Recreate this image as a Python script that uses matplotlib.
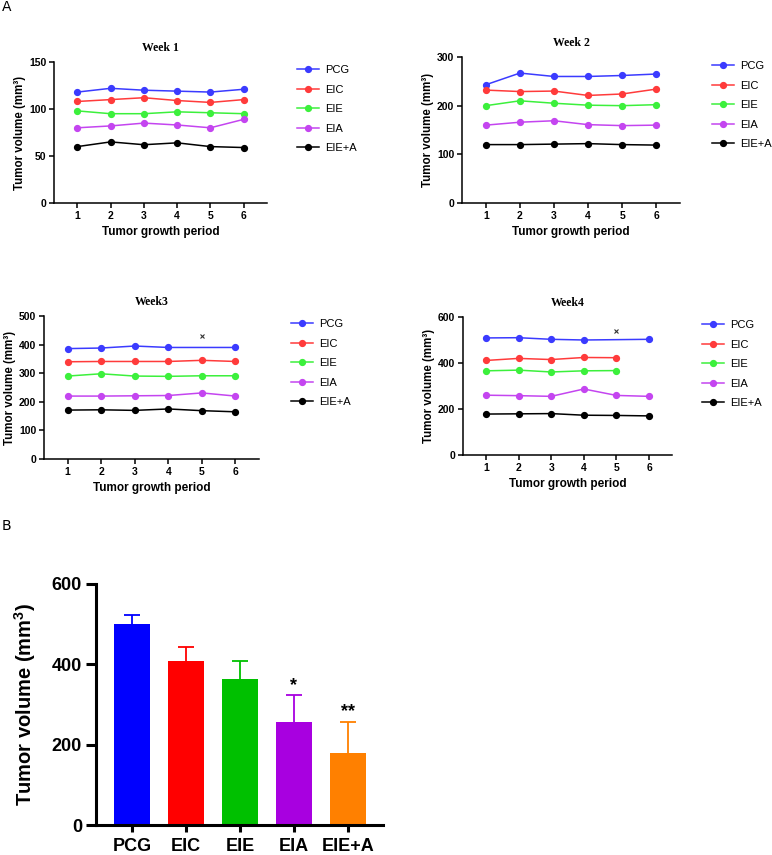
import numpy as np
import matplotlib.pyplot as plt

plt.rcParams['font.family'] = ['Liberation Sans', 'DejaVu Sans']
plt.rcParams['mathtext.fontset'] = 'custom'
plt.rcParams['mathtext.rm'] = 'Liberation Sans:bold'
plt.rcParams['mathtext.it'] = 'Liberation Sans:bold'
plt.rcParams['mathtext.bf'] = 'Liberation Sans:bold'

# data
groups = ['PCG', 'EIC', 'EIE', 'EIA', 'EIE+A']
periods = [1, 2, 3, 4, 5, 6]

week1 = {
    'PCG': [118, 122, 120, 119, 118, 121],
    'EIC': [108, 110, 112, 109, 107, 110],
    'EIE': [98, 95, 95, 97, 96, 95],
    'EIA': [80, 82, 85, 83, 80, 89],
    'EIE+A': [60, 65, 62, 64, 60, 59],
}
week2 = {
    'PCG': [243, 267, 260, 260, 262, 265],
    'EIC': [232, 229, 230, 221, 224, 234],
    'EIE': [200, 210, 205, 201, 200, 202],
    'EIA': [160, 166, 169, 161, 159, 160],
    'EIE+A': [120, 120, 121, 122, 120, 119],
}
# None = no point drawn at that period
week3 = {
    'PCG': [386, 388, 395, 390, None, 390],
    'EIC': [340, 341, 341, 341, 345, 341],
    'EIE': [290, 298, 290, 289, 291, 291],
    'EIA': [220, 220, 221, 222, 231, 220],
    'EIE+A': [171, 172, 170, 175, 169, 165],
}
week4 = {
    'PCG': [509, 510, 503, 500, None, 503],
    'EIC': [411, 420, 415, 424, 423, None],
    'EIE': [366, 369, 361, 366, 367, None],
    'EIA': [260, 258, 255, 287, 259, 255],
    'EIE+A': [178, 179, 180, 173, 172, 170],
}
# stray "x" marks (period, value)
week3_x = (5, 430)
week4_x = (5, 539)

final_mean = [500, 408, 364, 257, 180]
final_err = [22, 34, 45, 66, 77]
stars = ['', '', '', '*', '**']

line_colors = ['#3b3bff', '#ff3b3b', '#3cf03c', '#c445f0', '#000000']
bar_colors = ['#0000ff', '#ff0000', '#00c000', '#a800e0', '#ff8000']

W, H = 772, 855
fig = plt.figure(figsize=(W / 100, H / 100), dpi=100)


def px_axes(l, r, t, b):
    return fig.add_axes([l / W, 1 - b / H, (r - l) / W, (b - t) / H])


def week_panel(rect, data, title, ymax, step, leg_xy, xmark=None):
    ax = px_axes(*rect)
    for g, c in zip(groups, line_colors):
        xs = [p for p, v in zip(periods, data[g]) if v is not None]
        ys = [v for v in data[g] if v is not None]
        ax.plot(xs, ys, color=c, lw=1.1, marker='o', ms=4.2, label=g)
    if xmark is not None:
        ax.plot([xmark[0]], [xmark[1]], marker='x', ms=3, mew=0.8,
                color='#333333', ls='none')
    ax.set_xlim(0.3, 6.7)
    ax.set_ylim(0, ymax)
    ax.set_yticks(np.arange(0, ymax + 1, step))
    ax.set_xticks(periods)
    for s in ['top', 'right']:
        ax.spines[s].set_visible(False)
    for s in ['left', 'bottom']:
        ax.spines[s].set_linewidth(1.1)
    ax.tick_params(length=3.5, width=1.1, labelsize=7.5, pad=2)
    for lab in ax.get_xticklabels() + ax.get_yticklabels():
        lab.set_fontweight('bold')
    ax.set_xlabel('Tumor growth period', fontsize=8.5, fontweight='bold', labelpad=4)
    ax.set_ylabel('Tumor volume (mm³)', fontsize=8.3, fontweight='bold', labelpad=2)
    ax.set_title(title, fontsize=8.5, fontweight='bold',
                 family='Liberation Serif', pad=8)
    ax.legend(loc='upper left', bbox_to_anchor=(leg_xy[0] / W, 1 - leg_xy[1] / H),
              bbox_transform=fig.transFigure, frameon=False, fontsize=8,
              handlelength=2.0, handletextpad=0.5, labelspacing=0.86,
              borderpad=0, borderaxespad=0)
    return ax


week_panel((54, 267, 62, 203), week1, 'Week 1', 150, 50, (297, 65))
week_panel((462, 680, 57, 203), week2, 'Week 2', 300, 100, (712, 61))
week_panel((44, 259, 316, 459), week3, 'Week3', 500, 100, (291, 319), week3_x)
week_panel((463, 672, 317, 455), week4, 'Week4', 600, 200, (702, 320), week4_x)

# panel B
ax = px_axes(96, 383, 584, 825)
x = np.arange(len(groups))
ax.bar(x, final_mean, width=0.66, color=bar_colors, zorder=3)
for i in range(len(groups)):
    eb = ax.errorbar(x[i], final_mean[i], yerr=[[0], [final_err[i]]], color=bar_colors[i],
                     capsize=5.5, elinewidth=1.3, capthick=1.3, zorder=2)
    eb[1][0].set_visible(False)
    if stars[i]:
        ax.text(x[i], final_mean[i] + final_err[i] + 4, stars[i], ha='center',
                va='bottom', fontsize=13, fontweight='bold')
ax.set_xlim(-0.67, 4.65)
ax.set_ylim(0, 600)
ax.set_yticks([0, 200, 400, 600])
ax.set_xticks(x)
ax.set_xticklabels(groups)
for s in ['top', 'right']:
    ax.spines[s].set_visible(False)
for s in ['left', 'bottom']:
    ax.spines[s].set_linewidth(2.2)
    ax.spines[s].set_zorder(4)
ax.tick_params(axis='y', length=7, width=2.2, labelsize=13, pad=3)
ax.tick_params(axis='x', length=5, width=2.2, labelsize=13, pad=4)
for lab in ax.get_xticklabels() + ax.get_yticklabels():
    lab.set_fontweight('bold')
ax.set_ylabel(r'Tumor volume (mm$^{3}$)', fontsize=14.5, fontweight='bold', labelpad=10)

fig.text(2 / W, 1 - 7 / H, 'A', fontsize=10, va='center', ha='left', family='DejaVu Sans')
fig.text(2 / W, 1 - 526 / H, 'B', fontsize=10, va='center', ha='left', family='DejaVu Sans')

fig.savefig('out.png', dpi=100)
